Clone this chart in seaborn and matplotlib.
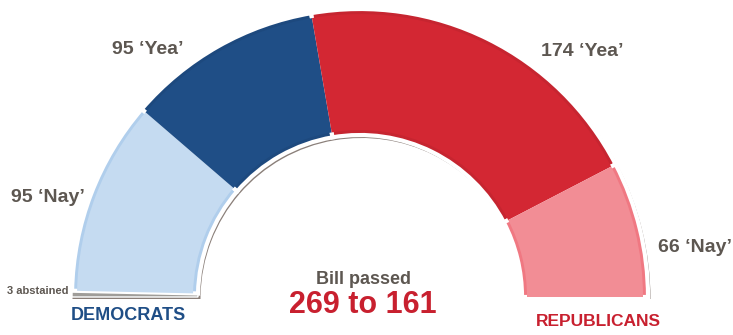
import matplotlib
matplotlib.use("Agg")
import matplotlib.pyplot as plt
import seaborn as sns
import colorsys
from matplotlib import colors as mcolors

sns.set_theme(style="white")
plt.rcParams['font.family'] = ['Liberation Sans', 'DejaVu Sans']

segments = ["3 abstained", "95 \u2018Nay\u2019", "95 \u2018Yea\u2019", "174 \u2018Yea\u2019", "66 \u2018Nay\u2019"]
votes = [3, 95, 95, 174, 66]
colors = ["#a9a7a3", "#c5dbf1", "#1f4e86", "#d32733", "#f28d95"]


def shade(c, f):
    r, g, b = mcolors.to_rgb(c)
    h, l, s = colorsys.rgb_to_hls(r, g, b)
    return colorsys.hls_to_rgb(h, max(0, min(1, l * f)), s)


W, H = 733, 335
fig = plt.figure(figsize=(W / 100, H / 100), dpi=100)
ax = fig.add_axes([0, 0, 1, 1])

cx, cy, R, width = 360, 335 - 297, 288, 126
total = sum(votes)
vals = votes + [total]

# shadow layer
ax.pie(vals, colors=["#8a7f79"] * len(votes) + ["none"], startangle=180, counterclock=False,
       center=(cx + 1.5, cy - 2), radius=R + 1,
       wedgeprops=dict(width=width + 2, edgecolor="none", linewidth=0))
# rim (bevel) layer
rim, _ = ax.pie(vals, colors=[shade(c, 0.94) for c in colors] + ["none"], startangle=180,
                counterclock=False, center=(cx, cy), radius=R,
                wedgeprops=dict(width=width, edgecolor="white", linewidth=3))
rim[-1].set_visible(False)
rim[0].set_linewidth(1)
# face layer
face, _ = ax.pie(vals, colors=colors + ["none"], startangle=180, counterclock=False,
                 center=(cx, cy), radius=R - 5,
                 wedgeprops=dict(width=width - 10, edgecolor="none", linewidth=0))
face[-1].set_visible(False)
face[0].set_visible(False)

ax.set_xlim(0, W)
ax.set_ylim(0, H)
ax.set_aspect("auto")
ax.axis("off")

gray = "#5d5751"
lab_pos = [(38, 44), (48, 138), (148, 285), (582, 283), (695, 88)]
sizes = [8, 14, 14, 14, 14]
for t, (x, y), s in zip(segments, lab_pos, sizes):
    ax.text(x, y, t, ha="center", va="center", fontsize=s, fontweight="bold", color=gray)

ax.text(363, 56, "Bill passed", ha="center", va="center", fontsize=13, fontweight="bold", color=gray)
ax.text(363, 30, "269 to 161", ha="center", va="center", fontsize=22, fontweight="bold", color="#c8202f")
ax.text(128, 19, "DEMOCRATS", ha="center", va="center", fontsize=13, fontweight="bold",
        color="#1f4e86")
ax.text(598, 13, "REPUBLICANS", ha="center", va="center", fontsize=12.5, fontweight="bold",
        color="#c8202f")

fig.savefig("out.png", dpi=100)
